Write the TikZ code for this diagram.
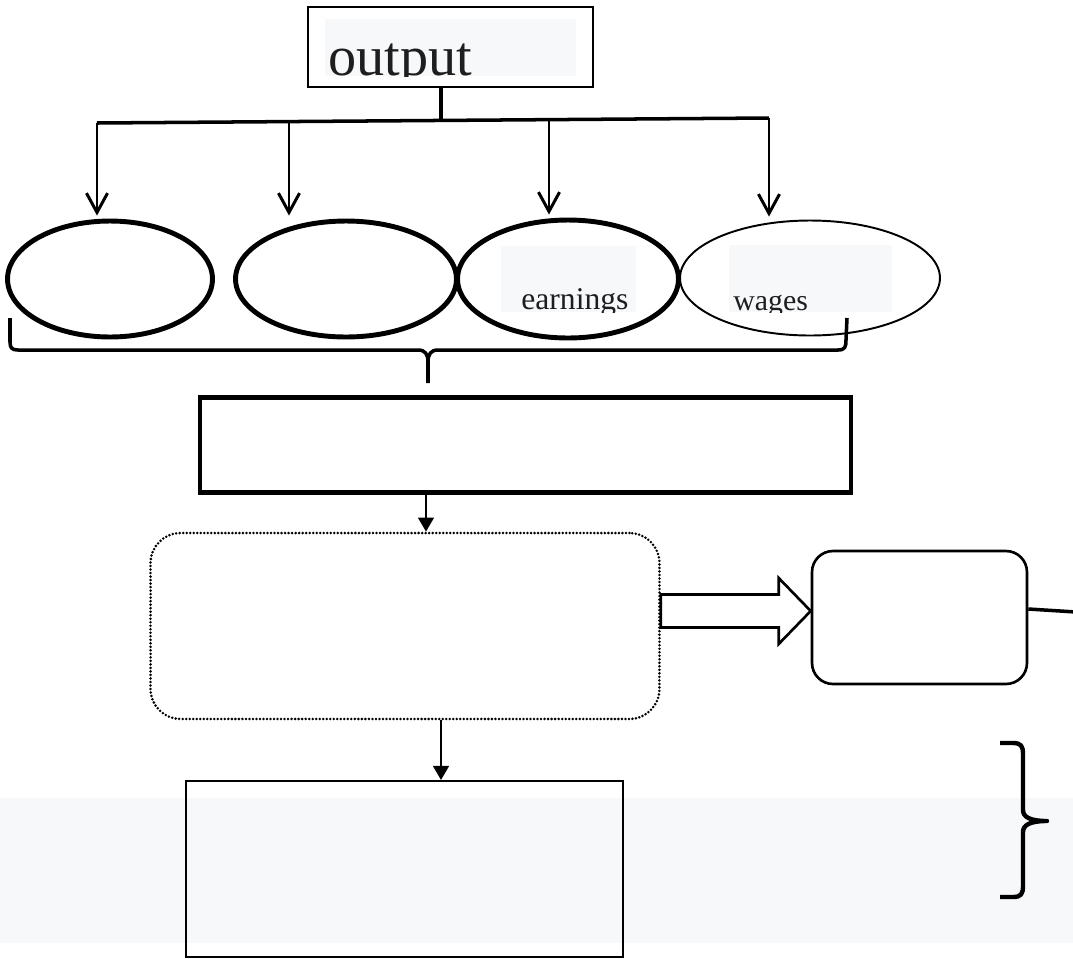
\documentclass[tikz,border=0pt]{standalone}
\usepackage{fontspec}
\setmainfont{Liberation Serif}
\usetikzlibrary{arrows.meta,shapes.geometric,calc}
\definecolor{bandgray}{HTML}{F7F8FA}
\definecolor{txtcol}{HTML}{1E1E1E}
\begin{document}
\begin{tikzpicture}[x=0.02cm,y=-0.02cm,
  box/.style={draw,rectangle,inner sep=0pt},
  oval/.style={draw,ellipse,inner sep=0pt,minimum height=2.32cm},
  thickoval/.style={oval,line width=2.8pt},
  thinoval/.style={oval,line width=1.1pt},
  barb/.style={-{Straight Barb[length=11pt,width=12pt]},line width=1.7pt},
  tri/.style={-{Triangle[length=8pt,width=9pt]},line width=1.2pt},
  dotbox/.style={draw,rectangle,rounded corners=0.6cm,inner sep=0pt,line width=1.6pt,dash pattern=on 0pt off 2pt,line cap=round},
  lbl/.style={anchor=base west,inner sep=0pt,text=txtcol},
  bracepath/.style={line width=2pt,line join=round}
]
\useasboundingbox (0,0) rectangle (1073,958);
% background band
\fill[bandgray] (0,798) rectangle (1073,943);

% output box
\node[box,line width=1.5pt,minimum width=5.7cm,minimum height=1.6cm] (out) at (450.5,47) {};
\fill[bandgray] (325,19) rectangle (576,76);
\begin{scope}
\clip (325,19) rectangle (576,76);
\node[lbl,font=\fontsize{32pt}{36pt}\selectfont] (outtxt) at (328,75.5) {output};
\end{scope}

% junction lines
\coordinate (j) at (441,120);
\coordinate (hl) at (97,123);
\coordinate (hr) at (769,118);
\coordinate (h2) at (289,121.5);
\coordinate (h3) at (549,120.5);
\draw[line width=2pt] (out.south -| j) -- (j);
\draw[line width=2pt] (hl) -- (hr);

% ellipses
\node[thickoval,minimum width=4.1cm] (e1) at (110,279) {};
\node[thickoval,minimum width=4.42cm] (e2) at (346,279) {};
\node[thickoval,minimum width=4.42cm,minimum height=2.36cm] (e3) at (568,279) {};
\node[thinoval,minimum width=5.2cm,minimum height=2.3cm] (e4) at (810,278) {};

% arrows to ellipses
\draw[barb] (hl) -- ($(hl |- e1.north)+(0,-3)$);
\draw[barb] (h2) -- ($(h2 |- e2.north)+(0,-3)$);
\draw[barb] (h3) -- ($(h3 |- e3.north)+(0,-3)$);
\draw[barb] (hr) -- ($(hr |- e4.north)+(0,-3)$);

% labels in ellipses
\fill[bandgray] (501,246) rectangle (636,312);
\begin{scope}
\clip (501,246) rectangle (636,312);
\node[lbl,font=\fontsize{18pt}{22pt}\selectfont] (earn) at (521,309) {earnings};
\end{scope}
\fill[bandgray] (729,245) rectangle (892,312);
\begin{scope}
\clip (729,245) rectangle (892,312);
\node[lbl,font=\fontsize{17pt}{21pt}\selectfont] (wage) at (733,310) {wages};
\end{scope}

% brace under ellipses
\draw[bracepath] (10,318) -- (10,342) .. controls (10,348) and (12,350) .. (18,350)
  -- (418,350) .. controls (425,350) and (428,354) .. (428,362) -- (428,383);
\draw[bracepath] (428,362) .. controls (428,354) and (431,350) .. (438,350)
  -- (838,350) .. controls (845,350) and (846,347) .. (846,340) -- (847,318);

% second rectangle
\node[box,line width=2.4pt,minimum width=13.02cm,minimum height=1.9cm] (r2) at (525.5,445) {};

% dotted rounded box
\node[dotbox,minimum width=10.18cm,minimum height=3.72cm] (dot) at (405,626) {};
\draw[tri] (r2.south -| 426,0) -- (dot.north -| 426,0);

% right rounded box
\node[draw,rectangle,rounded corners=0.42cm,inner sep=0pt,line width=1.5pt,minimum width=4.3cm,minimum height=2.66cm] (r4) at (919.5,617.5) {};

% block arrow
\coordinate (bs) at (dot.east |- 0,611);
\coordinate (bt) at (r4.west |- 0,611);
\draw[line width=1.5pt,line join=miter,fill=white]
  ($(bs)+(0,-16.5)$) -- ($(bt)+(-32,-16.5)$) -- ($(bt)+(-32,-33)$) -- (bt)
  -- ($(bt)+(-32,33)$) -- ($(bt)+(-32,16.5)$) -- ($(bs)+(0,16.5)$) -- cycle;

% line from right box off the page
\coordinate (rend) at (1076,612);
\draw[line width=2pt] (r4.east |- 0,609) -- (rend);

% bottom rectangle
\node[box,line width=1.2pt,minimum width=8.74cm,minimum height=3.52cm] (r3) at (404.5,869) {};
\draw[tri] (dot.south -| 441,0) -- (r3.north -| 441,0);

% right brace
\draw[line width=2.5pt,line join=round] (1000,743) -- (1013,743)
  .. controls (1021,743) and (1023,746) .. (1023,754) -- (1023,810)
  .. controls (1023,817) and (1030,821) .. (1047,821)
  .. controls (1030,821) and (1023,825) .. (1023,832) -- (1023,886)
  .. controls (1023,894) and (1021,897) .. (1013,897) -- (1000,897);
\end{tikzpicture}
\end{document}
